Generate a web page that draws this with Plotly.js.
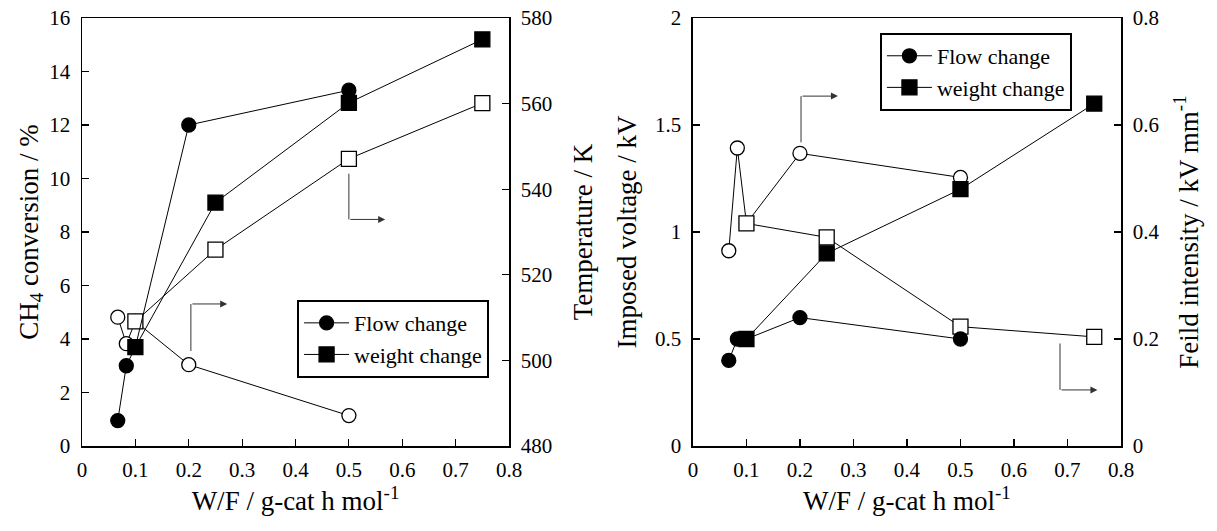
<!DOCTYPE html>
<html>
<head>
<meta charset="utf-8">
<script src="https://cdn.plot.ly/plotly-3.0.1.min.js"></script>
<style>html,body{margin:0;padding:0;background:#fff;}#chart{width:1217px;height:531px;}</style>
</head>
<body>
<div id="chart"></div>
<script>
// ---- Data ----
// Left panel: CH4 conversion (%) and temperature (K) vs W/F
const flowWF = [0.067, 0.083, 0.1, 0.2, 0.5];
const flowConversion = [0.95, 3.0, 3.7, 12.0, 13.3];
const flowTemperature = [510.1, 503.9, 509.1, 499.0, 487.1];

const weightWF = [0.1, 0.25, 0.5, 0.75];
const weightConversion = [3.7, 9.1, 12.83, 15.2];
const weightTemperature = [509.1, 525.9, 547.1, 560.1];

// Right panel: imposed voltage (kV) and field intensity (kV/mm) vs W/F
const flowVoltage = [0.4, 0.5, 0.5, 0.6, 0.5];
const flowField = [0.365, 0.557, 0.416, 0.547, 0.502];
const weightVoltage = [0.5, 0.9, 1.2, 1.6];
const weightField = [0.416, 0.39, 0.223, 0.204];

const seriesNames = ["Flow change", "weight change"];

// Elbow arrows pointing to the right-hand axis: [x, yStart, yTurn, xEnd]
const leftArrows = [[0.204, 3.55, 5.31, 0.272], [0.5, 10.18, 8.47, 0.568]];
const rightArrows = [[0.202, 1.419, 1.635, 0.271], [0.686, 0.479, 0.262, 0.756]];

// ---- Styles ----
const FONT = "Liberation Serif";
const lineStyle = {color: "#000", width: 1};
function mk(symbol, filled, size) {
  return {symbol: symbol, size: size, color: filled ? "#000" : "#fff",
          line: {color: "#000", width: 1.3}};
}

const traces = [
  // left panel: open markers (right axis) first, filled (left axis, overlaid) on top
  {x: flowWF, y: flowTemperature, xaxis: "x", yaxis: "y2", mode: "lines+markers",
   showlegend: false, line: lineStyle, marker: mk("circle", false, 14), cliponaxis: false},
  {x: weightWF, y: weightTemperature, xaxis: "x", yaxis: "y2", mode: "lines+markers",
   showlegend: false, line: lineStyle, marker: mk("square", false, 15), cliponaxis: false},
  {x: flowWF, y: flowConversion, xaxis: "x", yaxis: "y", mode: "lines+markers",
   name: seriesNames[0], line: lineStyle, marker: mk("circle", true, 14), legend: "legend", cliponaxis: false},
  {x: weightWF, y: weightConversion, xaxis: "x", yaxis: "y", mode: "lines+markers",
   name: seriesNames[1], line: lineStyle, marker: mk("square", true, 15), legend: "legend", cliponaxis: false},
  // right panel
  {x: flowWF, y: flowField, xaxis: "x2", yaxis: "y4", mode: "lines+markers",
   showlegend: false, line: lineStyle, marker: mk("circle", false, 14), cliponaxis: false},
  {x: weightWF, y: weightField, xaxis: "x2", yaxis: "y4", mode: "lines+markers",
   showlegend: false, line: lineStyle, marker: mk("square", false, 15), cliponaxis: false},
  {x: flowWF, y: flowVoltage, xaxis: "x2", yaxis: "y3", mode: "lines+markers",
   name: seriesNames[0], line: lineStyle, marker: mk("circle", true, 14), legend: "legend2", cliponaxis: false},
  {x: weightWF, y: weightVoltage, xaxis: "x2", yaxis: "y3", mode: "lines+markers",
   name: seriesNames[1], line: lineStyle, marker: mk("square", true, 15), legend: "legend2", cliponaxis: false}
];

const tickFont = {family: FONT, size: 21, color: "#000"};
const titleFont = {family: FONT, size: 27, color: "#000"};

function xAx(domain, anchor) {
  return {domain: domain, anchor: anchor, range: [0, 0.8], dtick: 0.1, tick0: 0,
    showgrid: false, zeroline: false, showline: true, linecolor: "#000", linewidth: 1.5,
    mirror: true, ticks: "inside", ticklen: 7, tickwidth: 1.2, tickcolor: "#000",
    tickfont: tickFont, ticklabelstandoff: 4,
    title: {text: "W/F / g-cat h mol<sup>-1</sup>", font: titleFont, standoff: 8}};
}
function yAx(opts) {
  return Object.assign({showgrid: false, zeroline: false, showline: true, linecolor: "#000",
    linewidth: 1.5, ticks: "inside", ticklen: 7, tickwidth: 1.2, tickcolor: "#000",
    tickfont: tickFont, ticklabelstandoff: 6}, opts);
}

const shapes = [];
const annotations = [];
function addArrows(list, xref, yref) {
  list.forEach(a => {
    shapes.push({type: "line", xref: xref, yref: yref, x0: a[0], x1: a[0], y0: a[1], y1: a[2],
                 line: {color: "#333", width: 1}});
    annotations.push({xref: xref, yref: yref, axref: xref, ayref: yref,
      x: a[3], y: a[2], ax: a[0], ay: a[2], text: "", showarrow: true,
      arrowhead: 2, arrowsize: 1.4, arrowwidth: 1, arrowcolor: "#333"});
  });
}
addArrows(leftArrows, "x", "y");
addArrows(rightArrows, "x2", "y3");

const legendBase = {font: {family: FONT, size: 22, color: "#000"}, bgcolor: "#fff",
  bordercolor: "#000", borderwidth: 2, xanchor: "left", yanchor: "top",
  tracegroupgap: 0, itemwidth: 45};

const layout = {
  width: 1217, height: 531,
  margin: {l: 82, r: 96, t: 18, b: 85},
  paper_bgcolor: "#fff", plot_bgcolor: "rgba(0,0,0,0)",
  font: {family: FONT, color: "#000"},
  showlegend: true,
  xaxis: xAx([0, 0.411], "y2"),
  xaxis2: xAx([0.588, 1], "y4"),
  yaxis2: yAx({anchor: "x", side: "right", range: [480, 580], dtick: 20,
    title: {text: "Temperature / K", font: titleFont, standoff: 22}}),
  yaxis: yAx({anchor: "x", overlaying: "y2", side: "left", range: [0, 16], dtick: 2,
    title: {text: "CH<sub>4</sub> conversion / %", font: titleFont, standoff: 3}}),
  yaxis4: yAx({anchor: "x2", side: "right", range: [0, 0.8], dtick: 0.2,
    title: {text: "Feild intensity / kV mm<sup>-1</sup>", font: titleFont, standoff: 20}}),
  yaxis3: yAx({anchor: "x2", overlaying: "y4", side: "left", range: [0, 2], dtick: 0.5,
    title: {text: "Imposed voltage / kV", font: titleFont, standoff: 10}}),
  legend: Object.assign({}, legendBase, {x: 0.207, y: 0.341}),
  legend2: Object.assign({}, legendBase, {x: 0.768, y: 0.965}),
  shapes: shapes,
  annotations: annotations
};

Plotly.newPlot("chart", traces, layout, {displayModeBar: false, staticPlot: true});
</script>
</body>
</html>
